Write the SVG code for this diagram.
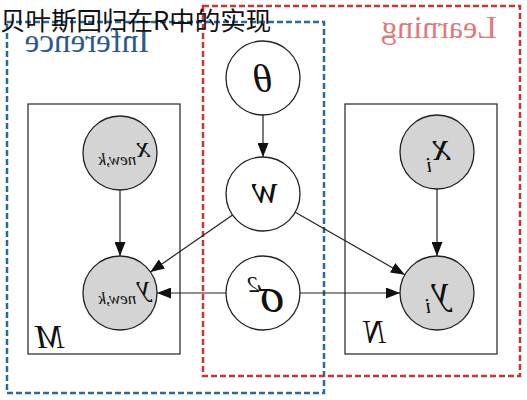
<svg xmlns="http://www.w3.org/2000/svg" width="527" height="400" viewBox="0 0 527 400">
<style>
.node{stroke:#222;stroke-width:1.3}
.obs{fill:#d4d4d4}
.lat{fill:#fff}
.plate{fill:none;stroke:#333;stroke-width:1.3}
.edge{stroke:#222;stroke-width:1.2;fill:none}
.lbl{font-family:"Liberation Serif",serif;font-style:italic;fill:#111}
</style>
<defs>
<marker id="ah" markerUnits="userSpaceOnUse" markerWidth="14" markerHeight="11" refX="14" refY="5.5" orient="auto">
<path d="M0,0 L14,5.5 L0,11 z" fill="#111"/>
</marker>
</defs>
<rect width="527" height="400" fill="#fff"/>
<g id="inference-box">
<rect x="7" y="22" width="317" height="371" fill="none" stroke="#2b6a99" stroke-width="2.5" stroke-dasharray="6,3"/>
<text x="87" y="52" text-anchor="middle" transform="matrix(-1 0 0 1 174 0)" font-family="Liberation Serif,serif" font-size="33" fill="#2d5a8a">Inference</text>
</g>
<g id="learning-box">
<rect x="203" y="6" width="317" height="370" fill="none" stroke="#cc3333" stroke-width="2.5" stroke-dasharray="6,3"/>
<text x="439" y="38" text-anchor="middle" transform="matrix(-1 0 0 1 878 0)" font-family="Liberation Serif,serif" font-size="32" fill="#e07a7a">Learning</text>
</g>
<g id="plate-M">
<rect class="plate" x="28" y="104" width="152" height="250"/>
<text class="lbl" x="50" y="348" text-anchor="middle" transform="matrix(-1 0 0 1 100 0)" font-size="34">M</text>
</g>
<g id="plate-N">
<rect class="plate" x="345" y="104" width="152" height="250"/>
<text class="lbl" x="375" y="343" text-anchor="middle" transform="matrix(-1 0 0 1 750 0)" font-size="33">N</text>
</g>
<g id="connectors">
<line class="edge" x1="263" y1="115" x2="263" y2="157" marker-end="url(#ah)"/>
<line class="edge" x1="120" y1="190" x2="120" y2="256" marker-end="url(#ah)"/>
<line class="edge" x1="232.6" y1="215.1" x2="150.4" y2="271.9" marker-end="url(#ah)"/>
<line class="edge" x1="295.2" y1="212.3" x2="404.8" y2="274.7" marker-end="url(#ah)"/>
<line class="edge" x1="226" y1="293" x2="157" y2="293" marker-end="url(#ah)"/>
<line class="edge" x1="300" y1="293" x2="400" y2="293" marker-end="url(#ah)"/>
<line class="edge" x1="437" y1="189" x2="437" y2="256" marker-end="url(#ah)"/>
</g>
<g id="node-theta">
<circle class="node lat" cx="263" cy="78" r="37"/>
<text class="lbl" x="263" y="92" text-anchor="middle" transform="matrix(-1 0 0 1 526 0)" font-size="40">θ</text>
</g>
<g id="node-w">
<circle class="node lat" cx="263" cy="194" r="37"/>
<text class="lbl" x="265" y="203" text-anchor="middle" transform="matrix(-1 0 0 1 530 0)" font-size="40">w</text>
</g>
<g id="node-sigma">
<circle class="node lat" cx="263" cy="293" r="37"/>
<text class="lbl" x="246" y="312" transform="matrix(-1 0 0 1 530 0)" font-size="50">σ<tspan font-size="24" dy="-20">2</tspan></text>
</g>
<g id="node-xnew">
<circle class="node obs" cx="120" cy="153" r="37"/>
<text class="lbl" x="124" y="157" text-anchor="middle" transform="matrix(-1 0 0 1 248 0)" font-size="30">x<tspan font-size="17" dy="8">new,k</tspan></text>
</g>
<g id="node-ynew">
<circle class="node obs" cx="120" cy="293" r="37"/>
<text class="lbl" x="124" y="296" text-anchor="middle" transform="matrix(-1 0 0 1 248 0)" font-size="30">y<tspan font-size="17" dy="8">new,k</tspan></text>
</g>
<g id="node-xi">
<circle class="node obs" cx="437" cy="152" r="37"/>
<text class="lbl" x="438" y="160" text-anchor="middle" transform="matrix(-1 0 0 1 876 0)" font-size="40">x<tspan font-size="22" dy="12">i</tspan></text>
</g>
<g id="node-yi">
<circle class="node obs" cx="437" cy="293" r="37"/>
<text class="lbl" x="437" y="303" text-anchor="middle" transform="matrix(-1 0 0 1 874 0)" font-size="40">y<tspan font-size="22" dy="10">i</tspan></text>
</g>
<text x="0" y="30" font-family="Noto Sans CJK SC,sans-serif" font-size="25.5" fill="#111">贝叶斯回归在R中的实现</text>
</svg>
